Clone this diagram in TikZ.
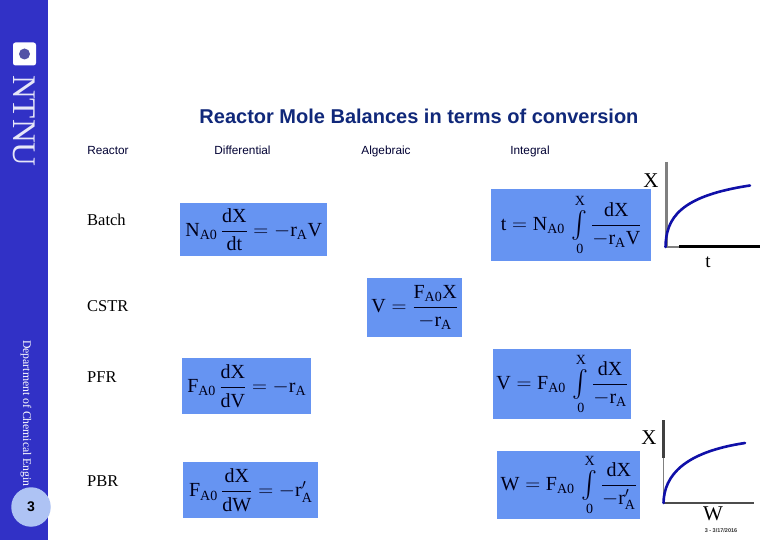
\documentclass[tikz,border=0pt]{standalone}
\usepackage{amsmath}
\usepackage{graphicx}
\usepackage{fontspec}
\setmainfont{Liberation Serif}
\newfontfamily\arialf{Liberation Sans}
\definecolor{sidebar}{HTML}{3131C6}
\definecolor{eqblue}{HTML}{6694F2}
\definecolor{badge}{HTML}{AEC3F4}
\definecolor{curveblue}{HTML}{1010A8}
\definecolor{axisgrey}{HTML}{808080}
\definecolor{titleblue}{HTML}{10287A}
\tikzset{
  eqbox/.style={fill=eqblue,draw=none,inner sep=0pt,anchor=north west,align=center},
  eqtext/.style={inner sep=0pt,text=black!90!blue,font=\fontsize{20}{24}\selectfont},
  head/.style={inner sep=0pt,anchor=base,font=\arialf\fontsize{11.8}{14}\selectfont,text=black!80!blue},
  rowlabel/.style={inner sep=0pt,anchor=base west,font=\fontsize{16.5}{20}\selectfont,text=black},
  axislabel/.style={inner sep=0pt,font=\fontsize{21}{24}\selectfont,text=black},
  curve/.style={draw=curveblue,line width=2.6pt,line cap=round},
  axisbar/.style={line width=3pt,draw=axisgrey},
  axisdark/.style={line width=3pt,draw=black},
  axisthin/.style={line width=1.5pt,draw=axisgrey}
}
\newcommand{\rsub}[1]{_{\mathrm{#1}}}
\newcommand{\intzx}{\mathop{\vcenter{\hbox{\scalebox{1.15}[1.3]{$\textstyle\int$}}}}\limits_{\rule{0pt}{10pt}\mathrm{0}}^{\rule[-1.5pt]{0pt}{1.5pt}\mathrm{X}}}
\begin{document}
\begin{tikzpicture}[x=1pt,y=-1pt]
\useasboundingbox (0,0) rectangle (780,540);
\fill[white] (0,0) rectangle (780,540);
\fill[sidebar] (0,0) rectangle (48,540);
% logo
\node[fill=white,rounded corners=2.5pt,minimum size=23pt,inner sep=0pt] (logo) at (24.5,54) {};
\node[circle,fill=sidebar!55!gray,minimum size=11pt,inner sep=0pt] (logodot) at (logo.center) {};
\node[rotate=-90,inner sep=0pt,text=white!88!sidebar,font=\fontsize{33}{33}\selectfont] (ntnu) at (24.5,121) {NTNU};
% department
\node[rotate=-90,inner sep=0pt,anchor=west,text=white,font=\fontsize{11.7}{13}\selectfont] (dept) at (26,340) {Department of Chemical Engin};
\node[circle,fill=badge,minimum size=39.5pt,inner sep=0pt,font=\arialf\bfseries\fontsize{14}{16}\selectfont,text=black] (page) at (31,507) {3};
% headings
\node[inner sep=0pt,font=\arialf\bfseries\fontsize{20}{24}\selectfont,text=titleblue] (title) at (419,116) {Reactor Mole Balances in terms of conversion};
\node[head] (h1) at (108,155) {Reactor};
\node[head] (h2) at (242.5,155) {Differential};
\node[head] (h3) at (386,155) {Algebraic};
\node[head] (h4) at (530,155) {Integral};
% row labels
\node[rowlabel] (r1) at (87,226) {Batch};
\node[rowlabel] (r2) at (87,312) {CSTR};
\node[rowlabel] (r3) at (87,382) {PFR};
\node[rowlabel] (r4) at (87,486) {PBR};
% equation boxes
\node[eqbox,minimum width=147pt,minimum height=53pt] (b1) at (180,203) {};
\node[eqtext] (e1) at (b1.center) {$\mathrm{N}\rsub{A0}\,\dfrac{\mathrm{dX}}{\mathrm{dt}}=-\mathrm{r}\rsub{A}\mathrm{V}$};
\node[eqbox,minimum width=160pt,minimum height=72pt] (b2) at (491,189) {};
\node[eqtext] (e2) at (b2.center) {$\mathrm{t}=\mathrm{N}\rsub{A0}\,\intzx\dfrac{\mathrm{dX}}{-\mathrm{r}\rsub{A}\mathrm{V}}$};
\node[eqbox,minimum width=95pt,minimum height=59pt] (b3) at (367,278) {};
\node[eqtext] (e3) at (b3.center) {$\mathrm{V}=\dfrac{\mathrm{F}\rsub{A0}\mathrm{X}}{-\mathrm{r}\rsub{A}}$};
\node[eqbox,minimum width=129pt,minimum height=56pt] (b4) at (182,358) {};
\node[eqtext] (e4) at (b4.center) {$\mathrm{F}\rsub{A0}\,\dfrac{\mathrm{dX}}{\mathrm{dV}}=-\mathrm{r}\rsub{A}$};
\node[eqbox,minimum width=138pt,minimum height=70pt] (b5) at (493,349) {};
\node[eqtext] (e5) at (b5.center) {$\mathrm{V}=\mathrm{F}\rsub{A0}\,\intzx\dfrac{\mathrm{dX}}{-\mathrm{r}\rsub{A}}$};
\node[eqbox,minimum width=135pt,minimum height=56pt] (b6) at (183,462) {};
\node[eqtext] (e6) at (b6.center) {$\mathrm{F}\rsub{A0}\,\dfrac{\mathrm{dX}}{\mathrm{dW}}=-\mathrm{r}'\rsub{A}$};
\node[eqbox,minimum width=143pt,minimum height=68pt] (b7) at (497,451) {};
\node[eqtext] (e7) at (b7.center) {$\mathrm{W}=\mathrm{F}\rsub{A0}\,\intzx\dfrac{\mathrm{dX}}{-\mathrm{r}'\rsub{A}}$};
% graph 1
\coordinate (o1) at (665.5,247);
\coordinate (t1) at (666.5,162);
\coordinate (v1) at (666.5,247);
\coordinate (m1) at (679,247);
\coordinate (x1end) at (760,247);
\coordinate (c1) at (750,185.5);
\draw[axisbar] (t1) -- (v1);
\draw[axisthin] (o1) -- (m1);
\draw[axisdark] (m1) -- (x1end);
\draw[curve] (o1) .. controls (666,218) and (680,196) .. (c1);
\node[axislabel] (x1) at (651,181) {X};
\node[axislabel,font=\fontsize{19}{22}\selectfont] (l1) at (708,262) {t};
% graph 2
\coordinate (o2) at (663.5,503);
\coordinate (m2) at (663.5,458);
\coordinate (t2) at (663.5,420);
\coordinate (x2end) at (754,503);
\coordinate (c2) at (745,443);
\draw[axisthin] (o2) -- (m2);
\draw[axisdark,draw=black!75] (m2) -- (t2);
\draw[axisthin,draw=black!70] (o2) -- (x2end);
\draw[curve] (o2) .. controls (664,475) and (685,452) .. (c2);
\node[axislabel] (x2) at (649,438) {X};
\node[axislabel] (l2) at (713,514) {W};
% date
\node[inner sep=0pt,font=\arialf\bfseries\fontsize{5.5}{6}\selectfont,text=black!80] (date) at (721,531) {3 - 3/17/2016};
\end{tikzpicture}
\end{document}
